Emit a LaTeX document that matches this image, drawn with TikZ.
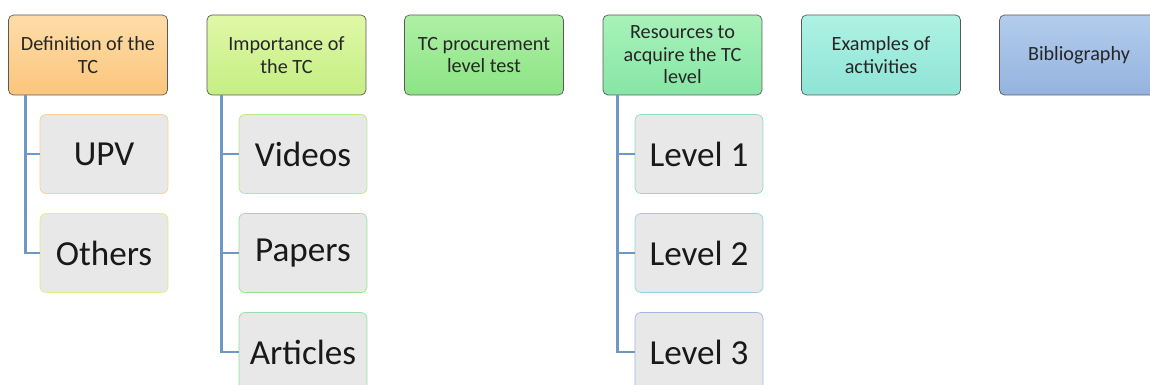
\documentclass[tikz,border=0pt]{standalone}
\usepackage{fontspec}
\setmainfont{Carlito}
\usetikzlibrary{positioning}

\definecolor{spine}{HTML}{6F97C6}
\definecolor{itemfill}{HTML}{E8E8E8}
% heading shades, top and bottom
\definecolor{defT}{HTML}{FEDDA8}\definecolor{defB}{HTML}{FBC57C}
\definecolor{impT}{HTML}{E0F8A6}\definecolor{impB}{HTML}{C4EE84}
\definecolor{testT}{HTML}{AEF0A4}\definecolor{testB}{HTML}{8CE486}
\definecolor{resT}{HTML}{A8F2B8}\definecolor{resB}{HTML}{86E6A6}
\definecolor{actT}{HTML}{AEF2E4}\definecolor{actB}{HTML}{8EE4D6}
\definecolor{bibT}{HTML}{B4CCEC}\definecolor{bibB}{HTML}{93B3DF}
\tikzset{head/.style={draw=black!65,rounded corners=0.1cm,minimum width=3.18cm,minimum height=1.6cm,align=center,inner sep=1pt,text=black!85,font=\fontsize{11.5}{12.8}\selectfont,}}
\tikzset{item/.style={draw,fill=itemfill,rounded corners=0.12cm,minimum width=2.56cm,minimum height=1.58cm,text=black!90,font=\fontsize{20}{22}\selectfont,}}
\tikzset{link/.style={draw=spine,line width=1.6pt,}}

\begin{document}
\begin{tikzpicture}[x=0.02cm,y=-0.02cm]
\path[use as bounding box,clip] (0,0) rectangle (1150,385);

% headings
\node[head,top color=defT,bottom color=defB] (def) at (88,55) {Definition of the\\TC};
\node[head,top color=impT,bottom color=impB] (imp) at (286.5,55) {Importance of\\the TC};
\node[head,top color=testT,bottom color=testB] (test) at (484,55) {TC procurement\\level test};
\node[head,top color=resT,bottom color=resB] (res) at (682.5,55) {Resources to\\acquire the TC\\level};
\node[head,top color=actT,bottom color=actB] (act) at (881,55) {Examples of\\activities};
\node[head,top color=bibT,bottom color=bibB] (bib) at (1079,55) {Bibliography};

% sub items
\node[item,draw={rgb,255:red,245;green,212;blue,140}] (upv) at (104,154) {UPV};
\node[item,draw={rgb,255:red,222;green,236;blue,130}] (others) at (104,253) {Others};
\node[item,draw={rgb,255:red,182;green,234;blue,134}] (videos) at (303,154) {Videos};
\node[item,draw={rgb,255:red,150;green,226;blue,146}] (papers) at (303,253) {Papers};
\node[item,draw={rgb,255:red,146;green,226;blue,164}] (articles) at (303,352) {Articles};
\node[item,draw={rgb,255:red,140;green,222;blue,196}] (lvl1) at (699,154) {Level 1};
\node[item,draw={rgb,255:red,146;green,212;blue,222}] (lvl2) at (699,253) {Level 2};
\node[item,draw={rgb,255:red,156;green,186;blue,228}] (lvl3) at (699,352) {Level 3};

% connectors
\foreach \c in {upv,others}
	\draw[link] ([xshift=0.34cm]def.south west) |- (\c.west);
\foreach \c in {videos,papers,articles}
	\draw[link] ([xshift=0.3cm]imp.south west) |- (\c.west);
\foreach \c in {lvl1,lvl2,lvl3}
	\draw[link] ([xshift=0.3cm]res.south west) |- (\c.west);

\end{tikzpicture}
\end{document}
